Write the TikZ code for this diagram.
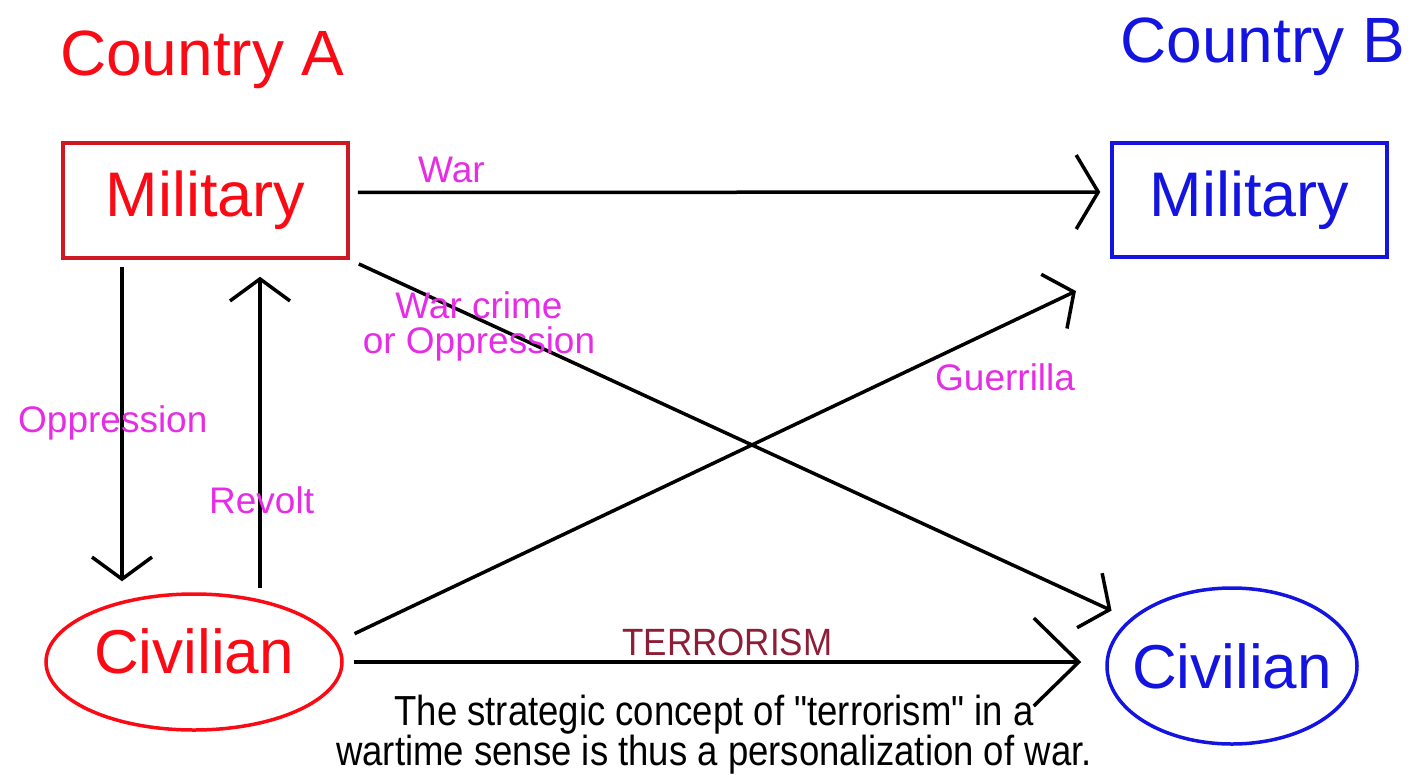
\documentclass[tikz,border=0pt]{standalone}
\usepackage{fontspec}
\setmainfont{Liberation Sans}[Ligatures=TeXOff]
\usepackage{xcolor}
\usepackage{tikz}
\usetikzlibrary{shapes,arrows.meta}
\definecolor{redA}{RGB}{250,10,20}
\definecolor{redAbox}{RGB}{205,25,35}
\definecolor{blueB}{RGB}{20,20,225}
\definecolor{tagpink}{RGB}{230,45,230}
\definecolor{terror}{RGB}{140,30,55}
\tikzstyle{block} = [rectangle, draw, line width=3.5pt, inner sep=0pt, font=\fontsize{63}{70}\selectfont]
\tikzstyle{oval} = [ellipse, draw, line width=3.5pt, inner sep=0pt, font=\fontsize{62}{70}\selectfont]
\tikzstyle{head} = [inner sep=0pt, font=\fontsize{64}{70}\selectfont]
\tikzstyle{tag} = [text=tagpink, inner sep=0pt, font=\fontsize{37}{35}\selectfont]
\tikzstyle{line} = [draw, line width=3.5pt, -{Straight Barb[length=22pt, width=60pt]}]

\begin{document}
\begin{tikzpicture}[x=1pt, y=-1pt]
\useasboundingbox (0,0) rectangle (1416,774);
\node [head, text=redA, anchor=base west] (countryA) at (60,75) {Country A};
\node [head, text=blueB, anchor=base east] (countryB) at (1405,62) {Country B};
\node [block, draw=redAbox, text=redA, minimum width=285pt, minimum height=115pt] (milA) at (205.5,200.5) {Military};
\node [block, draw=blueB, text=blueB, minimum width=275pt, minimum height=114pt] (milB) at (1249.5,200) {Military};
\node [oval, draw=redA, text=redA, minimum width=296pt, minimum height=136pt, text depth=22pt] (civA) at (194,662) {Civilian};
\node [oval, draw=blueB, text=blueB, minimum width=250pt, minimum height=156pt, inner xsep=-12pt] (civB) at (1232,666) {Civilian};
% connectors
\path [line, -{Straight Barb[length=22pt, width=74pt]}, shorten <=8pt, shorten >=10pt] ([yshift=8pt]milA.east) -- ([yshift=8pt]milB.west);
\path [line, shorten <=10pt, shorten >=20pt] (milA.south east) -- (civB);
\path [line, shorten <=19pt, shorten >=38pt] (civA.8) -- ([yshift=-16pt]milB.south west);
\path [line, -{Straight Barb[length=45pt, width=88pt]}, shorten <=10pt, shorten >=24pt] (civA.east) -- (civA.east -| civB.west);
\path [line, shorten <=7pt, shorten >=11pt] ([xshift=-83.5pt]milA.south) -- ([xshift=-83.5pt]milA.south |- civA.north);
\path [line, shorten <=4pt, shorten >=17pt] ([xshift=54.5pt]milA.south |- civA.north) -- ([xshift=54.5pt]milA.south);
% labels
\node [tag, anchor=base west] (lwar) at (418,182) {War};
\node [tag, anchor=north, align=center] (lcrime) at (479,291) {War crime\\or Oppression};
\node [tag, anchor=base west] (lguer) at (935,390) {Guerrilla};
\node [tag, anchor=base west] (loppr) at (18,432) {Oppression};
\node [tag, anchor=base west] (lrevolt) at (209,513) {Revolt};
\node [inner sep=0pt, anchor=base, text=terror, font=\fontsize{38}{40}\selectfont] (lterror) at (727.5,655) {\scalebox{0.92}[1]{TERRORISM}};
\node [inner sep=0pt, anchor=base, font=\fontsize{42}{33}\selectfont] (lnote) at (714,725)
  {\scalebox{0.87}[1]{\begin{tabular}[t]{@{}c@{}}The strategic concept of "terrorism" in a\\wartime sense is thus a personalization of war.\end{tabular}}};
\end{tikzpicture}
\end{document}
